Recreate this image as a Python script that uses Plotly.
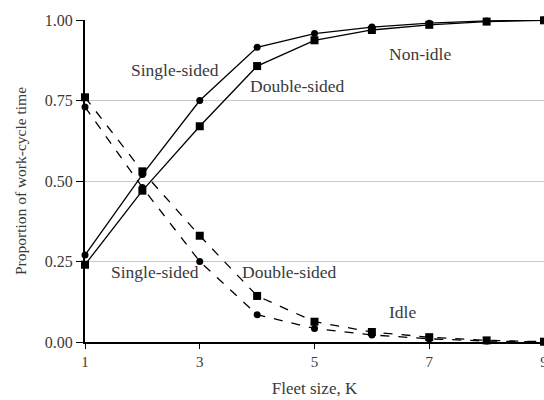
import plotly.graph_objects as go

fleet = [1, 2, 3, 4, 5, 6, 7, 8, 9]
single_nonidle = [0.27, 0.52, 0.75, 0.915, 0.958, 0.978, 0.99, 0.997, 1.0]
double_nonidle = [0.24, 0.47, 0.67, 0.857, 0.937, 0.969, 0.985, 0.995, 0.999]
single_idle = [0.73, 0.48, 0.25, 0.085, 0.042, 0.022, 0.01, 0.003, 0.0]
double_idle = [0.76, 0.53, 0.33, 0.143, 0.063, 0.031, 0.015, 0.005, 0.001]

x_ticks = [1, 3, 5, 7, 9]
y_ticks = [0, 0.25, 0.5, 0.75, 1.0]
y_ticklabels = ["0.00", "0.25", "0.50", "0.75", "1.00"]

FONT = "Liberation Serif, Times New Roman, serif"
TXT = "#3a3a3a"

fig = go.Figure()

def add(y, symbol, dash, size):
    fig.add_trace(go.Scatter(
        x=fleet, y=y, mode="lines+markers",
        line=dict(color="black", width=1.3, dash=dash),
        marker=dict(symbol=symbol, size=size, color="black"),
        cliponaxis=False, showlegend=False))

add(single_nonidle, "circle", "solid", 7)
add(double_nonidle, "square", "solid", 8)
add(single_idle, "circle", "dash", 7)
add(double_idle, "square", "dash", 8)

annots = [
    ("Single-sided", 2.57, 0.845),
    ("Double-sided", 4.71, 0.795),
    ("Non-idle", 6.84, 0.895),
    ("Single-sided", 2.22, 0.217),
    ("Double-sided", 4.57, 0.217),
    ("Idle", 6.53, 0.093),
]
for text, x, y in annots:
    fig.add_annotation(x=x, y=y, text=text, showarrow=False,
                       font=dict(family=FONT, size=17.5, color=TXT))

fig.update_layout(
    width=544, height=400,
    margin=dict(l=85, r=0, t=20, b=58),
    paper_bgcolor="white", plot_bgcolor="white",
    font=dict(family=FONT, size=15, color=TXT),
)
fig.update_xaxes(
    range=[1, 9], tickvals=x_ticks, ticks="outside", ticklen=5,
    tickcolor="black", showline=True, linecolor="black", linewidth=2,
    showgrid=False, zeroline=False, automargin=False,
    ticklabeloverflow="allow",
    title=dict(text="Fleet size, K", font=dict(family=FONT, size=17, color=TXT), standoff=13),
    tickfont=dict(family=FONT, size=15, color=TXT),
)
fig.update_yaxes(
    range=[0, 1.0], tickvals=y_ticks, ticktext=y_ticklabels, ticks="outside",
    ticklen=7, tickcolor="black", showline=True, linecolor="black", linewidth=2,
    showgrid=True, gridcolor="#c8c8c8", gridwidth=1, zeroline=False, automargin=False,
    title=dict(text="Proportion of work-cycle time", font=dict(family=FONT, size=15.5, color=TXT), standoff=14),
    tickfont=dict(family=FONT, size=16, color=TXT),
)

fig.write_html("out.html", config={"displayModeBar": False},
               post_script="document.body.style.margin='0';document.body.style.overflow='hidden';")
